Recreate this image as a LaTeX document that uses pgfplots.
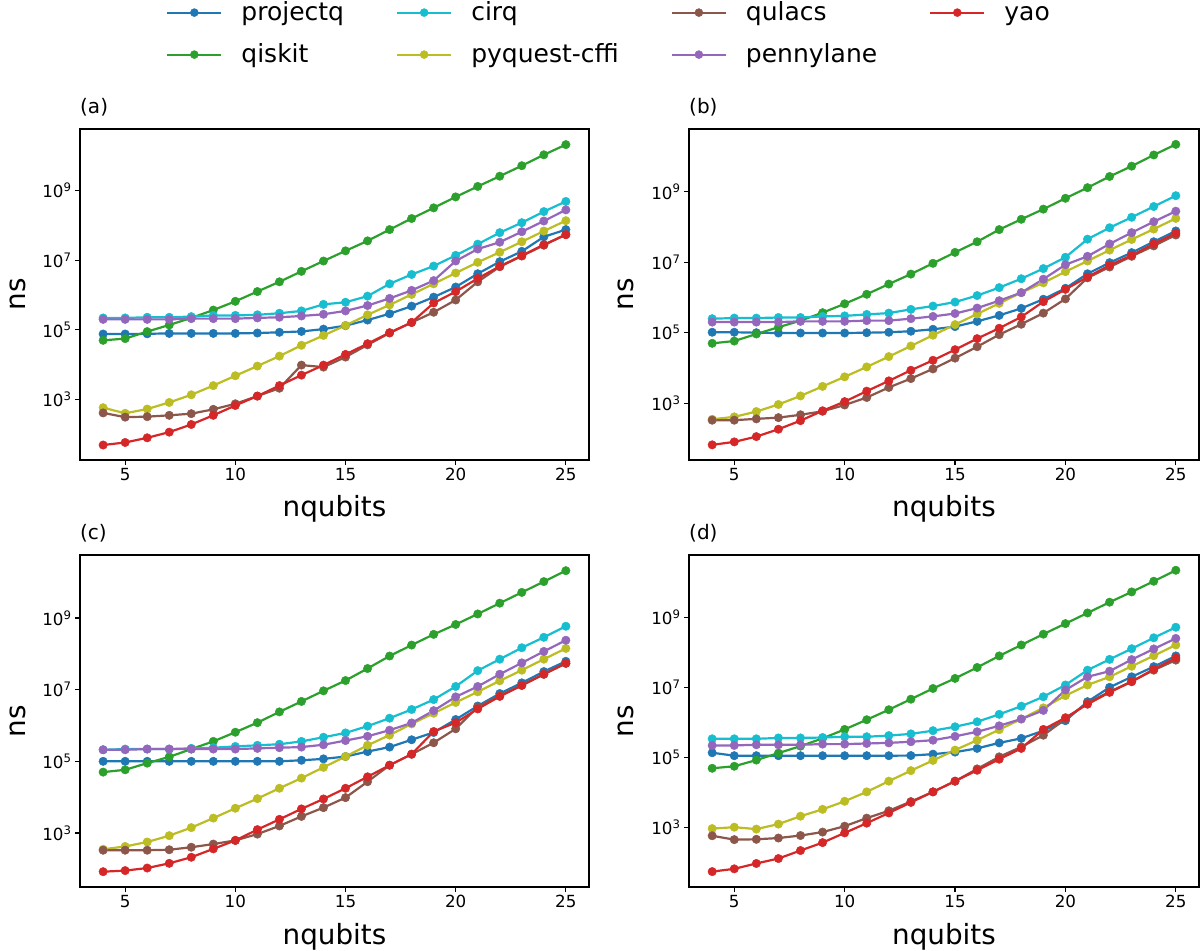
\documentclass[border=0pt]{standalone}
\usepackage{fontspec}
\setmainfont{DejaVu Sans}
\usepackage{pgfplots}
\usepackage{pgfplotstable}
\pgfplotsset{compat=1.18}

\definecolor{tabblue}{HTML}{1F77B4}
\definecolor{tabgreen}{HTML}{2CA02C}
\definecolor{tabcyan}{HTML}{17BECF}
\definecolor{tabolive}{HTML}{BCBD22}
\definecolor{tabbrown}{HTML}{8C564B}
\definecolor{tabpurple}{HTML}{9467BD}
\definecolor{tabred}{HTML}{D62728}

% columns: projectq qiskit cirq pyquest-cffi qulacs pennylane yao
\pgfplotstableread{
n pq qk cq pc ql pl yao
4 7.6e4 5.0e4 2.2e5 5.8e2 4.1e2 2.0e5 49
5 7.6e4 5.6e4 2.2e5 4.0e2 3.1e2 2.0e5 58
6 7.7e4 8.9e4 2.3e5 5.3e2 3.2e2 2.0e5 79
7 7.9e4 1.38e5 2.3e5 8.2e2 3.5e2 2.0e5 115
8 7.9e4 2.2e5 2.4e5 1.36e3 3.9e2 2.1e5 191
9 7.9e4 3.7e5 2.6e5 2.5e3 5.2e2 2.1e5 350
10 7.9e4 6.6e5 2.6e5 4.8e3 7.5e2 2.1e5 670
11 8.1e4 1.26e6 2.7e5 9.1e3 1.25e3 2.2e5 1.25e3
12 8.5e4 2.4e6 3.0e5 1.76e4 2.1e3 2.3e5 2.5e3
13 9.0e4 4.8e6 3.5e5 3.6e4 9.7e3 2.5e5 5.0e3
14 1.05e5 9.5e6 5.4e5 6.9e4 8.5e3 2.8e5 9.7e3
15 1.32e5 1.86e7 6.2e5 1.34e5 1.65e4 3.5e5 1.97e4
16 1.91e5 3.6e7 9.3e5 2.7e5 3.7e4 5.0e5 4.0e4
17 2.9e5 7.6e7 2.1e6 5.2e5 8.1e4 8.0e5 8.3e4
18 4.8e5 1.58e8 3.9e6 1.04e6 1.63e5 1.36e6 1.63e5
19 8.7e5 3.2e8 6.8e6 2.1e6 3.2e5 2.6e6 5.9e5
20 1.7e6 6.6e8 1.38e7 4.3e6 7.2e5 9.5e6 1.25e6
21 4.1e6 1.32e9 2.9e7 8.7e6 2.4e6 2.1e7 3.0e6
22 9.1e6 2.6e9 6.2e7 1.7e7 6.5e6 3.3e7 6.7e6
23 1.8e7 5.2e9 1.2e8 3.4e7 1.32e7 6.6e7 1.35e7
24 4.7e7 1.07e10 2.5e8 6.9e7 2.7e7 1.34e8 2.8e7
25 7.6e7 2.1e10 4.9e8 1.37e8 5.5e7 2.8e8 5.4e7
}\taba

\pgfplotstableread{
n pq qk cq pc ql pl yao
4 1.03e5 5.0e4 2.5e5 3.5e2 3.3e2 2.0e5 66
5 1.03e5 5.8e4 2.6e5 4.1e2 3.3e2 2.0e5 80
6 1.0e5 9.2e4 2.6e5 5.8e2 3.6e2 2.0e5 113
7 9.8e4 1.43e5 2.7e5 9.2e2 3.9e2 2.0e5 183
8 9.8e4 2.2e5 2.7e5 1.61e3 4.7e2 2.1e5 320
9 9.8e4 3.7e5 2.9e5 3.0e3 5.9e2 2.1e5 610
10 9.8e4 6.6e5 3.0e5 5.6e3 8.9e2 2.1e5 1.11e3
11 1.0e5 1.23e6 3.3e5 1.07e4 1.45e3 2.2e5 2.2e3
12 1.03e5 2.4e6 3.6e5 2.1e4 2.8e3 2.2e5 4.3e3
13 1.1e5 4.6e6 4.6e5 4.2e4 5.0e3 2.5e5 8.6e3
14 1.25e5 9.3e6 5.7e5 8.5e4 9.4e3 2.9e5 1.65e4
15 1.49e5 1.9e7 7.4e5 1.7e5 1.9e4 3.5e5 3.3e4
16 2.1e5 3.8e7 1.13e6 3.4e5 4.0e4 5.0e5 6.8e4
17 3.1e5 8.4e7 1.9e6 6.8e5 8.8e4 8.1e5 1.34e5
18 4.9e5 1.65e8 3.4e6 1.37e6 1.74e5 1.37e6 2.8e5
19 8.9e5 3.2e8 6.6e6 2.6e6 3.6e5 3.3e6 7.6e5
20 1.82e6 6.5e8 1.38e7 5.4e6 9.1e5 8.5e6 1.7e6
21 4.7e6 1.3e9 4.5e7 1.08e7 3.6e6 1.47e7 3.8e6
22 9.7e6 2.7e9 9.5e7 2.2e7 7.3e6 3.3e7 8.2e6
23 1.87e7 5.3e9 1.88e8 4.4e7 1.47e7 6.9e7 1.57e7
24 3.8e7 1.1e10 3.8e8 8.7e7 2.9e7 1.41e8 3.3e7
25 7.7e7 2.2e10 7.7e8 1.75e8 5.9e7 2.8e8 6.7e7
}\tabb

\pgfplotstableread{
n pq qk cq pc ql pl yao
4 1.0e5 5.0e4 2.1e5 3.5e2 3.3e2 2.1e5 83
5 1.0e5 5.8e4 2.2e5 4.2e2 3.3e2 2.1e5 89
6 1.0e5 8.9e4 2.2e5 5.6e2 3.3e2 2.2e5 105
7 1.0e5 1.33e5 2.2e5 8.4e2 3.4e2 2.2e5 142
8 1.0e5 2.2e5 2.3e5 1.41e3 4.0e2 2.2e5 210
9 1.0e5 3.6e5 2.4e5 2.6e3 4.9e2 2.2e5 360
10 1.0e5 6.5e5 2.6e5 4.9e3 6.2e2 2.2e5 620
11 1.0e5 1.2e6 2.8e5 9.1e3 9.3e2 2.3e5 1.24e3
12 1.0e5 2.4e6 3.0e5 1.77e4 1.57e3 2.4e5 2.4e3
13 1.07e5 4.7e6 3.6e5 3.4e4 2.9e3 2.5e5 4.7e3
14 1.17e5 9.3e6 4.7e5 6.8e4 5.1e3 2.9e5 8.9e3
15 1.36e5 1.8e7 6.2e5 1.36e5 9.7e3 3.8e5 1.77e4
16 1.87e5 3.9e7 9.6e5 2.8e5 2.7e4 5.0e5 3.7e4
17 2.5e5 8.7e7 1.6e6 5.4e5 7.8e4 7.4e5 7.8e4
18 4.0e5 1.76e8 2.8e6 1.11e6 1.58e5 1.18e6 1.58e5
19 6.4e5 3.5e8 5.3e6 2.2e6 3.3e5 2.6e6 6.8e5
20 1.47e6 6.6e8 1.23e7 4.4e6 8.1e5 6.3e6 1.2e6
21 3.5e6 1.3e9 3.4e7 8.7e6 3.3e6 1.23e7 2.9e6
22 7.8e6 2.6e9 7.1e7 1.77e7 6.7e6 2.7e7 6.5e6
23 1.55e7 5.2e9 1.48e8 3.5e7 1.34e7 5.6e7 1.31e7
24 3.2e7 1.04e10 2.9e8 7.1e7 2.7e7 1.17e8 2.7e7
25 6.2e7 2.1e10 5.9e8 1.42e8 5.4e7 2.4e8 5.5e7
}\tabc

\pgfplotstableread{
n pq qk cq pc ql pl yao
4 1.36e5 4.9e4 3.4e5 9.3e2 5.8e2 2.2e5 55
5 1.12e5 5.6e4 3.4e5 1.02e3 4.5e2 2.2e5 66
6 1.12e5 8.4e4 3.4e5 9.0e2 4.6e2 2.3e5 94
7 1.12e5 1.33e5 3.6e5 1.25e3 5.0e2 2.3e5 130
8 1.12e5 2.1e5 3.6e5 2.1e3 5.9e2 2.3e5 220
9 1.12e5 3.5e5 3.7e5 3.3e3 7.4e2 2.4e5 370
10 1.12e5 6.3e5 3.9e5 5.6e3 1.09e3 2.4e5 700
11 1.12e5 1.19e6 3.9e5 1.04e4 1.85e3 2.5e5 1.33e3
12 1.12e5 2.3e6 4.2e5 2.1e4 3.0e3 2.6e5 2.6e3
13 1.13e5 4.6e6 4.7e5 4.2e4 5.5e3 2.8e5 5.2e3
14 1.24e5 9.3e6 5.8e5 8.2e4 1.04e4 3.1e5 1.04e4
15 1.42e5 1.8e7 7.5e5 1.62e5 2.1e4 4.0e5 2.1e4
16 1.81e5 3.7e7 1.04e6 3.1e5 4.7e4 5.4e5 4.3e4
17 2.6e5 7.9e7 1.7e6 6.2e5 1.04e5 8.0e5 8.9e4
18 3.5e5 1.62e8 2.9e6 1.25e6 2.0e5 1.25e6 1.81e5
19 5.8e5 3.3e8 5.4e6 2.6e6 4.3e5 2.2e6 6.3e5
20 1.12e6 6.6e8 1.17e7 5.8e6 1.25e6 8.4e6 1.36e6
21 3.9e6 1.33e9 3.1e7 1.17e7 3.6e6 2.0e7 3.3e6
22 1.0e7 2.7e9 6.3e7 2.0e7 7.5e6 2.9e7 7.2e6
23 2.0e7 5.3e9 1.27e8 4.0e7 1.48e7 6.2e7 1.45e7
24 3.9e7 1.07e10 2.6e8 8.0e7 3.1e7 1.25e8 3.3e7
25 7.9e7 2.2e10 5.2e8 1.62e8 6.0e7 2.5e8 6.9e7
}\tabd

\pgfplotsset{
  every axis/.append style={
    scale only axis,
    xmin=2.95, xmax=26.05,
    xtick={5,10,15,20,25},
    xticklabels={5,10,15,20,25},
    ytick={1e3,1e5,1e7,1e9},
    yticklabels={10\textsuperscript{3},10\textsuperscript{5},10\textsuperscript{7},10\textsuperscript{9}},
    tick align=outside,
    major tick length=5pt,
    tick style={black, line width=1.1pt},
    axis line style={line width=1.1pt},
    ticklabel style={font=\fontsize{16.7}{20}\selectfont},
    xlabel=nqubits, ylabel=ns,
    label style={font=\fontsize{27.8}{32}\selectfont},
    xlabel style={at={(axis description cs:0.5,-0.172)}, anchor=base, inner sep=0pt},
    ylabel style={at={(axis description cs:-0.108,0.5)}, anchor=base, inner sep=0pt},
    title style={at={(axis description cs:0,1)}, anchor=base west, yshift=9.5pt,
      inner sep=0pt, font=\fontsize{20}{24}\selectfont},
  },
  every axis plot/.append style={line width=2.2pt, mark=*, mark size=4.2pt,
    mark options={solid, line width=0.5pt}},
}

\newcommand{\drawpanel}[1]{%
  \addplot[tabblue, forget plot] table[x=n, y=pq] {#1};
  \addplot[tabgreen, forget plot] table[x=n, y=qk] {#1};
  \addplot[tabcyan, forget plot] table[x=n, y=cq] {#1};
  \addplot[tabolive, forget plot] table[x=n, y=pc] {#1};
  \addplot[tabbrown, forget plot] table[x=n, y=ql] {#1};
  \addplot[tabpurple, forget plot] table[x=n, y=pl] {#1};
  \addplot[tabred, forget plot] table[x=n, y=yao] {#1};
}

\begin{document}
\begin{tikzpicture}
\useasboundingbox (0pt,0pt) rectangle (1203pt,-951pt);

\begin{axis}[ymode=log, xtick pos=lower, ytick pos=left,
    anchor=north west, at={(80pt,-129pt)}, width=509pt, height=331pt,
    ymin=18.2, ymax=5.9e10, title={(a)},
    legend columns=4,
    legend cell align=left,
    legend image code/.code={\draw[mark repeat=2,mark phase=2]
      plot coordinates {(0pt,1.5pt) (27pt,1.5pt) (54pt,1.5pt)};},
    legend style={at={(axis description cs:0.169,1.384)}, anchor=north west,
      draw=none, fill=none, inner sep=0pt, row sep=18pt,
      font=\fontsize{25}{30}\selectfont,
      nodes={inner sep=0pt, text height=18pt, text depth=6pt},
      /tikz/every odd column/.append style={column sep=19pt},
      /tikz/every even column/.append style={column sep=52pt}},
  ]
  \addlegendimage{tabblue, line width=2.2pt, mark=*, mark size=4pt}
  \addlegendentry{projectq}
  \addlegendimage{tabcyan, line width=2.2pt, mark=*, mark size=4pt}
  \addlegendentry{cirq}
  \addlegendimage{tabbrown, line width=2.2pt, mark=*, mark size=4pt}
  \addlegendentry{qulacs}
  \addlegendimage{tabred, line width=2.2pt, mark=*, mark size=4pt}
  \addlegendentry{yao}
  \addlegendimage{tabgreen, line width=2.2pt, mark=*, mark size=4pt}
  \addlegendentry{qiskit}
  \addlegendimage{tabolive, line width=2.2pt, mark=*, mark size=4pt}
  \addlegendentry{pyquest-cffi}
  \addlegendimage{tabpurple, line width=2.2pt, mark=*, mark size=4pt}
  \addlegendentry{pennylane}
  \drawpanel{\taba}
\end{axis}

\begin{axis}[ymode=log, xtick pos=lower, ytick pos=left,
    anchor=north west, at={(689pt,-129pt)}, width=510pt, height=331pt,
    ymin=24.5, ymax=6.0e10, title={(b)}]
  \drawpanel{\tabb}
\end{axis}

\begin{axis}[ymode=log, xtick pos=lower, ytick pos=left,
    anchor=north west, at={(80pt,-555pt)}, width=509pt, height=332pt,
    ymin=31, ymax=5.75e10, title={(c)}]
  \drawpanel{\tabc}
\end{axis}

\begin{axis}[ymode=log, xtick pos=lower, ytick pos=left,
    anchor=north west, at={(689pt,-555pt)}, width=510pt, height=332pt,
    ymin=20, ymax=6.0e10, title={(d)}]
  \drawpanel{\tabd}
\end{axis}
\end{tikzpicture}
\end{document}
